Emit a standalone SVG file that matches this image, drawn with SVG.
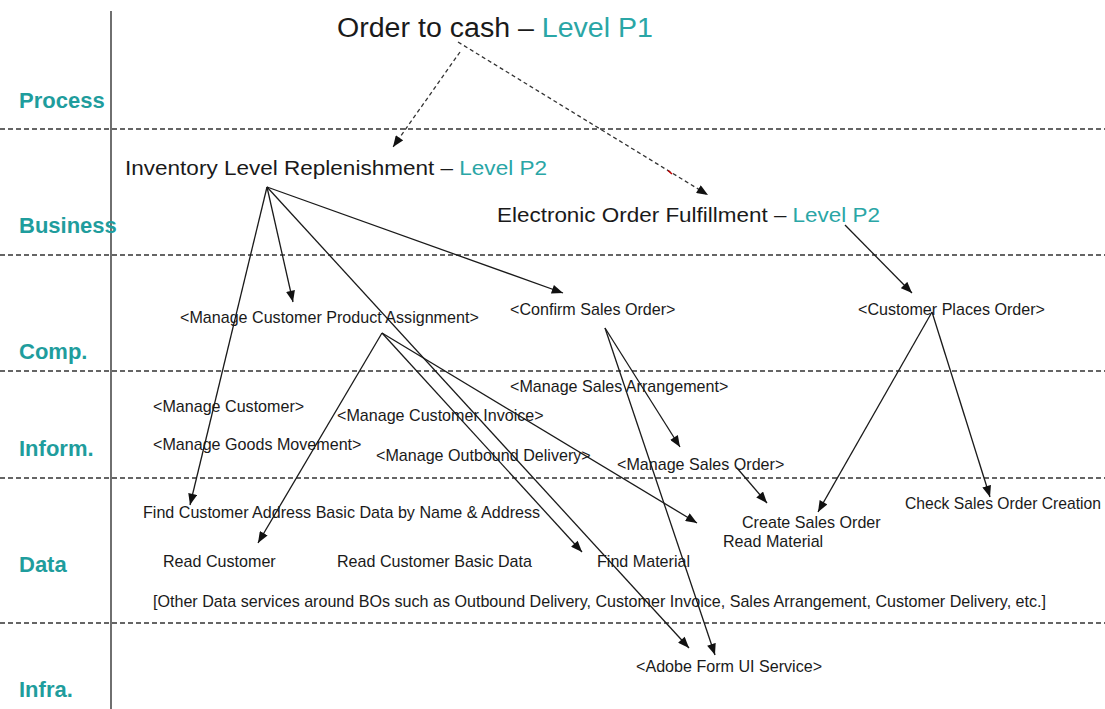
<svg xmlns="http://www.w3.org/2000/svg" width="1105" height="709" viewBox="0 0 1105 709">
<defs>
<marker id="ah" viewBox="0 0 10 8" refX="10" refY="4" markerWidth="12" markerHeight="9" markerUnits="userSpaceOnUse" orient="auto">
<path d="M0,0 L10,4 L0,8 Z" fill="#111"/>
</marker>
</defs>
<style>
.lane{font-family:"Liberation Sans",Arial,sans-serif;font-weight:bold;font-size:22px;fill:#1f9d9d}
.t{font-family:"Liberation Sans",Arial,sans-serif;fill:#1a1a1a}
.s{font-size:16.1px}
.lv{fill:#2aa6a6}
.sep{stroke:#333;stroke-width:1.4;stroke-dasharray:5,3;fill:none}
.dash{stroke:#333;stroke-width:1.3;stroke-dasharray:4,3;fill:none}
.ln{stroke:#1a1a1a;stroke-width:1.3;fill:none}
</style>
<rect width="1105" height="709" fill="#fff"/>
<g id="grid">
<line x1="111" y1="11" x2="111" y2="709" stroke="#222" stroke-width="1.3"/>
<line class="sep" x1="0" y1="129" x2="1105" y2="129"/>
<line class="sep" x1="0" y1="255" x2="1105" y2="255"/>
<line class="sep" x1="0" y1="371" x2="1105" y2="371"/>
<line class="sep" x1="0" y1="478" x2="1105" y2="478"/>
<line class="sep" x1="0" y1="623" x2="1105" y2="623"/>
</g>
<g id="lanes">
<text class="lane" x="19" y="108">Process</text>
<text class="lane" x="19" y="233">Business</text>
<text class="lane" x="19" y="359">Comp.</text>
<text class="lane" x="19" y="456">Inform.</text>
<text class="lane" x="19" y="572">Data</text>
<text class="lane" x="19" y="697">Infra.</text>
</g>
<g id="connectors">
<line class="dash" x1="460" y1="52" x2="393" y2="147" marker-end="url(#ah)"/>
<line class="dash" x1="458" y1="42" x2="708" y2="195" marker-end="url(#ah)"/>
<line x1="668" y1="170.5" x2="672" y2="174" stroke="#c00000" stroke-width="1.6"/>
<line class="ln" x1="267" y1="187" x2="190" y2="505" marker-end="url(#ah)"/>
<line class="ln" x1="267" y1="187" x2="293" y2="302" marker-end="url(#ah)"/>
<line class="ln" x1="267" y1="187" x2="689" y2="648" marker-end="url(#ah)"/>
<line class="ln" x1="267" y1="187" x2="563" y2="293" marker-end="url(#ah)"/>
<line class="ln" x1="382" y1="333" x2="258" y2="543" marker-end="url(#ah)"/>
<line class="ln" x1="382" y1="333" x2="582" y2="552" marker-end="url(#ah)"/>
<line class="ln" x1="382" y1="333" x2="697" y2="523" marker-end="url(#ah)"/>
<line class="ln" x1="605" y1="328" x2="680" y2="447" marker-end="url(#ah)"/>
<line class="ln" x1="605" y1="328" x2="715" y2="655" marker-end="url(#ah)"/>
<line class="ln" x1="845" y1="225" x2="912" y2="293" marker-end="url(#ah)"/>
<line class="ln" x1="932" y1="312" x2="818" y2="512" marker-end="url(#ah)"/>
<line class="ln" x1="932" y1="312" x2="990" y2="497" marker-end="url(#ah)"/>
<line class="ln" x1="737" y1="468" x2="767" y2="503" marker-end="url(#ah)"/>
</g>
<g id="n-title"><text class="t" x="337" y="37" font-size="27" textLength="316" lengthAdjust="spacingAndGlyphs">Order to cash – <tspan class="lv">Level P1</tspan></text></g>
<g id="n-ilr"><text class="t" x="125" y="175" font-size="20" textLength="422" lengthAdjust="spacingAndGlyphs">Inventory Level Replenishment – <tspan class="lv">Level P2</tspan></text></g>
<g id="n-eof"><text class="t" x="497" y="222" font-size="20" textLength="383" lengthAdjust="spacingAndGlyphs">Electronic Order Fulfillment – <tspan class="lv">Level P2</tspan></text></g>
<g id="n-mcpa"><text class="t s" x="180" y="323">&lt;Manage Customer Product Assignment&gt;</text></g>
<g id="n-cso"><text class="t s" x="510" y="315">&lt;Confirm Sales Order&gt;</text></g>
<g id="n-cpo"><text class="t s" x="858" y="315">&lt;Customer Places Order&gt;</text></g>
<g id="n-msa"><text class="t s" x="510" y="392">&lt;Manage Sales Arrangement&gt;</text></g>
<g id="n-mc"><text class="t s" x="153" y="412">&lt;Manage Customer&gt;</text></g>
<g id="n-mci"><text class="t s" x="337" y="421">&lt;Manage Customer Invoice&gt;</text></g>
<g id="n-mgm"><text class="t s" x="153" y="450">&lt;Manage Goods Movement&gt;</text></g>
<g id="n-mod"><text class="t s" x="376" y="461">&lt;Manage Outbound Delivery&gt;</text></g>
<g id="n-mso"><text class="t s" x="617" y="470">&lt;Manage Sales Order&gt;</text></g>
<g id="n-csoc"><text class="t s" x="905" y="509" textLength="196" lengthAdjust="spacingAndGlyphs">Check Sales Order Creation</text></g>
<g id="n-fca"><text class="t s" x="143" y="518">Find Customer Address Basic Data by Name &amp; Address</text></g>
<g id="n-create"><text class="t s" x="742" y="528">Create Sales Order</text></g>
<g id="n-rm"><text class="t s" x="723" y="547">Read Material</text></g>
<g id="n-rc"><text class="t s" x="163" y="567">Read Customer</text></g>
<g id="n-rcbd"><text class="t s" x="337" y="567">Read Customer Basic Data</text></g>
<g id="n-fm"><text class="t s" x="597" y="567">Find Material</text></g>
<g id="n-other"><text class="t s" x="153" y="607">[Other Data services around BOs such as Outbound Delivery, Customer Invoice, Sales Arrangement, Customer Delivery, etc.]</text></g>
<g id="n-adobe"><text class="t s" x="636" y="672">&lt;Adobe Form UI Service&gt;</text></g>
</svg>
